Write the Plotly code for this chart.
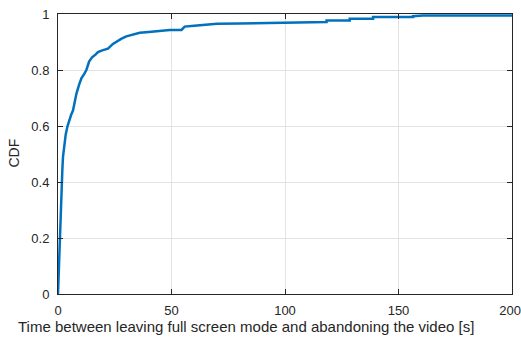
import plotly.graph_objects as go

time_s = [0, 0.3, 0.75, 1.1, 1.5, 1.9, 2.2, 2.8, 3.4, 4.2, 4.9, 5.8, 6.6, 7.3, 8.1,
          9.2, 10.3, 11.5, 12.5, 13.7, 15, 16.5, 17.6, 19.5, 22, 24.2, 26, 28, 30.1,
          33, 36, 40, 43.3, 47, 49.2, 54.4, 55.8, 60, 62.4, 66, 70, 80, 90, 100,
          106.5, 118.3, 118.3, 128.5, 128.5, 138.8, 138.8, 156.4, 156.4, 160.8, 200]
cdf = [0, 0.08, 0.19, 0.28, 0.38, 0.44, 0.49, 0.53, 0.57, 0.60, 0.62, 0.64, 0.655, 0.69, 0.715,
       0.745, 0.77, 0.785, 0.80, 0.83, 0.845, 0.855, 0.864, 0.87, 0.876, 0.893, 0.903, 0.912, 0.92,
       0.927, 0.933, 0.936, 0.938, 0.941, 0.943, 0.943, 0.955, 0.958, 0.96, 0.963, 0.965, 0.966, 0.968, 0.97,
       0.971, 0.971, 0.977, 0.977, 0.983, 0.983, 0.989, 0.989, 0.992, 0.995, 0.995]

x_ticks = [0, 50, 100, 150, 200]
x_tick_labels = ["0", "50", "100", "150", "200\u00a0"]
y_ticks = [0, 0.2, 0.4, 0.6, 0.8, 1]
y_tick_labels = ["0", "0.2", "0.4", "0.6", "0.8", "1"]
x_title = "Time between leaving full screen mode and abandoning the video [s]"
y_title = "CDF"

FONT = "Liberation Sans, Arial, Helvetica"
INK = "#262626"

fig = go.Figure(go.Scatter(x=time_s, y=cdf, mode="lines",
                           line=dict(color="#0072BD", width=2.5)))

axis_common = dict(showline=True, linecolor=INK, linewidth=1, mirror="allticks",
                   ticks="inside", ticklen=5, tickcolor=INK,
                   showgrid=True, gridcolor="#E3E3E3", gridwidth=1, zeroline=False,
                   automargin=False, ticklabeloverflow="allow",
                   tickfont=dict(family=FONT, size=13, color=INK))

fig.update_layout(
    width=521, height=339,
    margin=dict(l=58, r=9, t=14, b=45),
    paper_bgcolor="white", plot_bgcolor="white",
    showlegend=False,
    font=dict(family=FONT, size=13, color=INK),
    xaxis=dict(range=[0, 200], tickvals=x_ticks, ticktext=x_tick_labels,
               ticklabelstandoff=4, **axis_common),
    yaxis=dict(range=[0, 1], tickvals=y_ticks, ticktext=y_tick_labels, ticklabelstandoff=5,
               **axis_common),
    annotations=[
        dict(text=x_title, xref="paper", yref="paper", x=0.415, y=-0.08,
             xanchor="center", yanchor="top", showarrow=False,
             font=dict(family=FONT, size=15, color=INK)),
        dict(text=y_title, xref="paper", yref="paper", x=-0.097, y=0.505,
             xanchor="center", yanchor="middle", textangle=-90, showarrow=False,
             borderpad=0, font=dict(family=FONT, size=14, color=INK)),
    ],
)

fig.write_html("out.html",
               config={"displayModeBar": False},
               post_script="document.body.style.margin='0';document.body.style.overflow='hidden';")
